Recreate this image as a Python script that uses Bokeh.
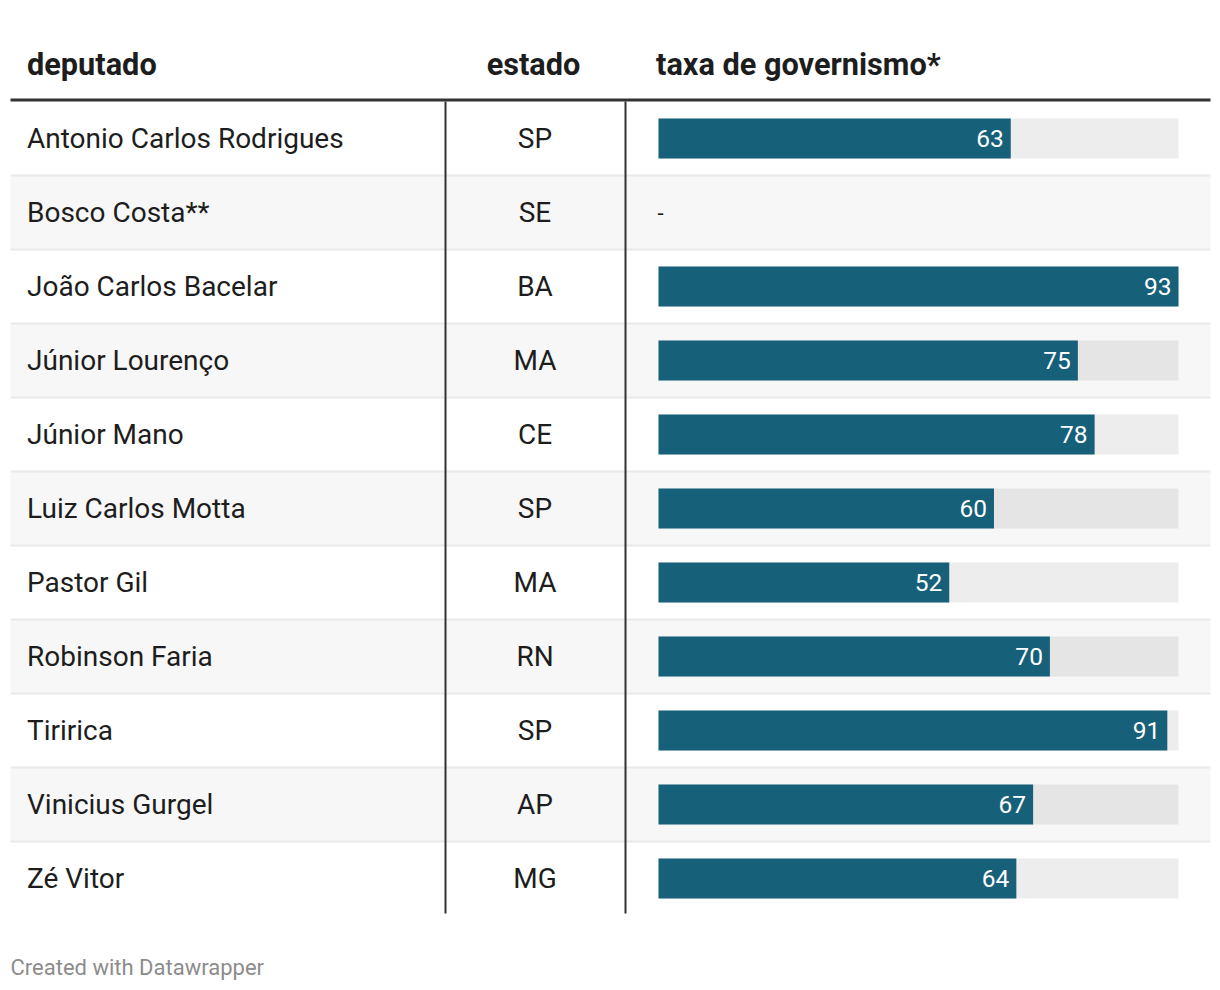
from bokeh.plotting import figure
from bokeh.models import Range1d, ColumnDataSource
from bokeh.core.properties import value
from bokeh.embed import file_html
from bokeh.resources import INLINE

# ---- data ----
deputados = ["Antonio Carlos Rodrigues", "Bosco Costa**", "João Carlos Bacelar",
             "Júnior Lourenço", "Júnior Mano", "Luiz Carlos Motta", "Pastor Gil",
             "Robinson Faria", "Tiririca", "Vinicius Gurgel", "Zé Vitor"]
estados = ["SP", "SE", "BA", "MA", "CE", "SP", "MA", "RN", "SP", "AP", "MG"]
taxa = [63, None, 93, 75, 78, 60, 52, 70, 91, 67, 64]
headers = ["deputado", "estado", "taxa de governismo*"]
footer = "Created with Datawrapper"

# ---- layout (page pixel coordinates) ----
W, H = 1220, 990
FONT = "Roboto"
row_top0 = 101
row_h = 74
n = len(deputados)
left, right = 10, 1210
col1_x, col2_x = 445, 625
bar_x0, bar_w = 658, 520
vmax = max(v for v in taxa if v is not None)

p = figure(width=W, height=H, output_backend="svg", toolbar_location=None,
           x_range=Range1d(0, W), y_range=Range1d(H, 0),
           min_border=0, outline_line_color=None)
p.axis.visible = False
p.grid.visible = False
p.background_fill_color = "white"
p.border_fill_color = "white"

centers = [row_top0 + row_h * i + row_h / 2 for i in range(n)]

# striped rows
odd = [i for i in range(n) if i % 2 == 1]
p.rect(x=[(left + right) / 2] * len(odd), y=[centers[i] for i in odd],
       width=right - left, height=row_h, fill_color="#f7f7f7", line_color=None)

# separators
for i in range(1, n):
    yb = row_top0 + row_h * i
    p.segment(x0=left, y0=yb, x1=right, y1=yb, line_color="#e9e9e9", line_width=2)

# header line
p.segment(x0=left, y0=99.5, x1=right, y1=99.5, line_color="#333333", line_width=3)

# vertical lines
for xv in (col1_x, col2_x):
    p.segment(x0=xv, y0=101, x1=xv, y1=row_top0 + row_h * n - 2,
              line_color="#333333", line_width=2)

HS = "30.7px"
BS = "28px"
TX = 26.5
# headers
p.text(x=[TX], y=[64], text=[headers[0]], text_font=value(FONT), text_font_style="bold",
       text_font_size=HS, text_color="#1d1d1d", text_align="left", text_baseline="middle")
p.text(x=[(col1_x + col2_x) / 2 - 2], y=[64], text=[headers[1]], text_font=value(FONT),
       text_font_style="bold", text_font_size=HS, text_color="#1d1d1d",
       text_align="center", text_baseline="middle")
p.text(x=[655.5], y=[64], text=[headers[2]], text_font=value(FONT), text_font_style="bold",
       text_font_size=HS, text_color="#1d1d1d", text_align="left", text_baseline="middle")

# body text
p.text(x=[TX] * n, y=centers, text=deputados, text_font=value(FONT), text_font_size=BS,
       text_color="#1d1d1d", text_align="left", text_baseline="middle")
p.text(x=[(col1_x + col2_x) / 2 - 0.5] * n, y=centers, text=estados, text_font=value(FONT),
       text_font_size=BS, text_color="#1d1d1d", text_align="center", text_baseline="middle")

# bars
idx = [i for i in range(n) if taxa[i] is not None]
src = ColumnDataSource(dict(
    y=[centers[i] for i in idx],
    right=[bar_x0 + bar_w * taxa[i] / vmax for i in idx],
    label=[str(taxa[i]) for i in idx],
    lx=[bar_x0 + bar_w * taxa[i] / vmax - 7 for i in idx],
))
p.hbar(y=[centers[i] for i in idx], left=bar_x0, right=bar_x0 + bar_w, height=40,
       fill_color="black", fill_alpha=0.07, line_color=None)
p.hbar(y="y", left=bar_x0, right="right", height=40, source=src,
       fill_color="#17607a", line_color=None)
p.text(x="lx", y="y", text="label", source=src, text_font=value(FONT), text_font_size="24.5px",
       text_color="white", text_align="right", text_baseline="middle")

# missing value dash
miss = [i for i in range(n) if taxa[i] is None]
p.text(x=[657] * len(miss), y=[centers[i] for i in miss], text=["-"] * len(miss),
       text_font=value(FONT), text_font_size="22px", text_color="#1d1d1d",
       text_align="left", text_baseline="middle")

# footer
p.text(x=[10], y=[967], text=[footer], text_font=value(FONT), text_font_size="22px",
       text_color="#8c8c8c", text_align="left", text_baseline="middle")

open("out.html", "w").write(file_html(p, INLINE))
